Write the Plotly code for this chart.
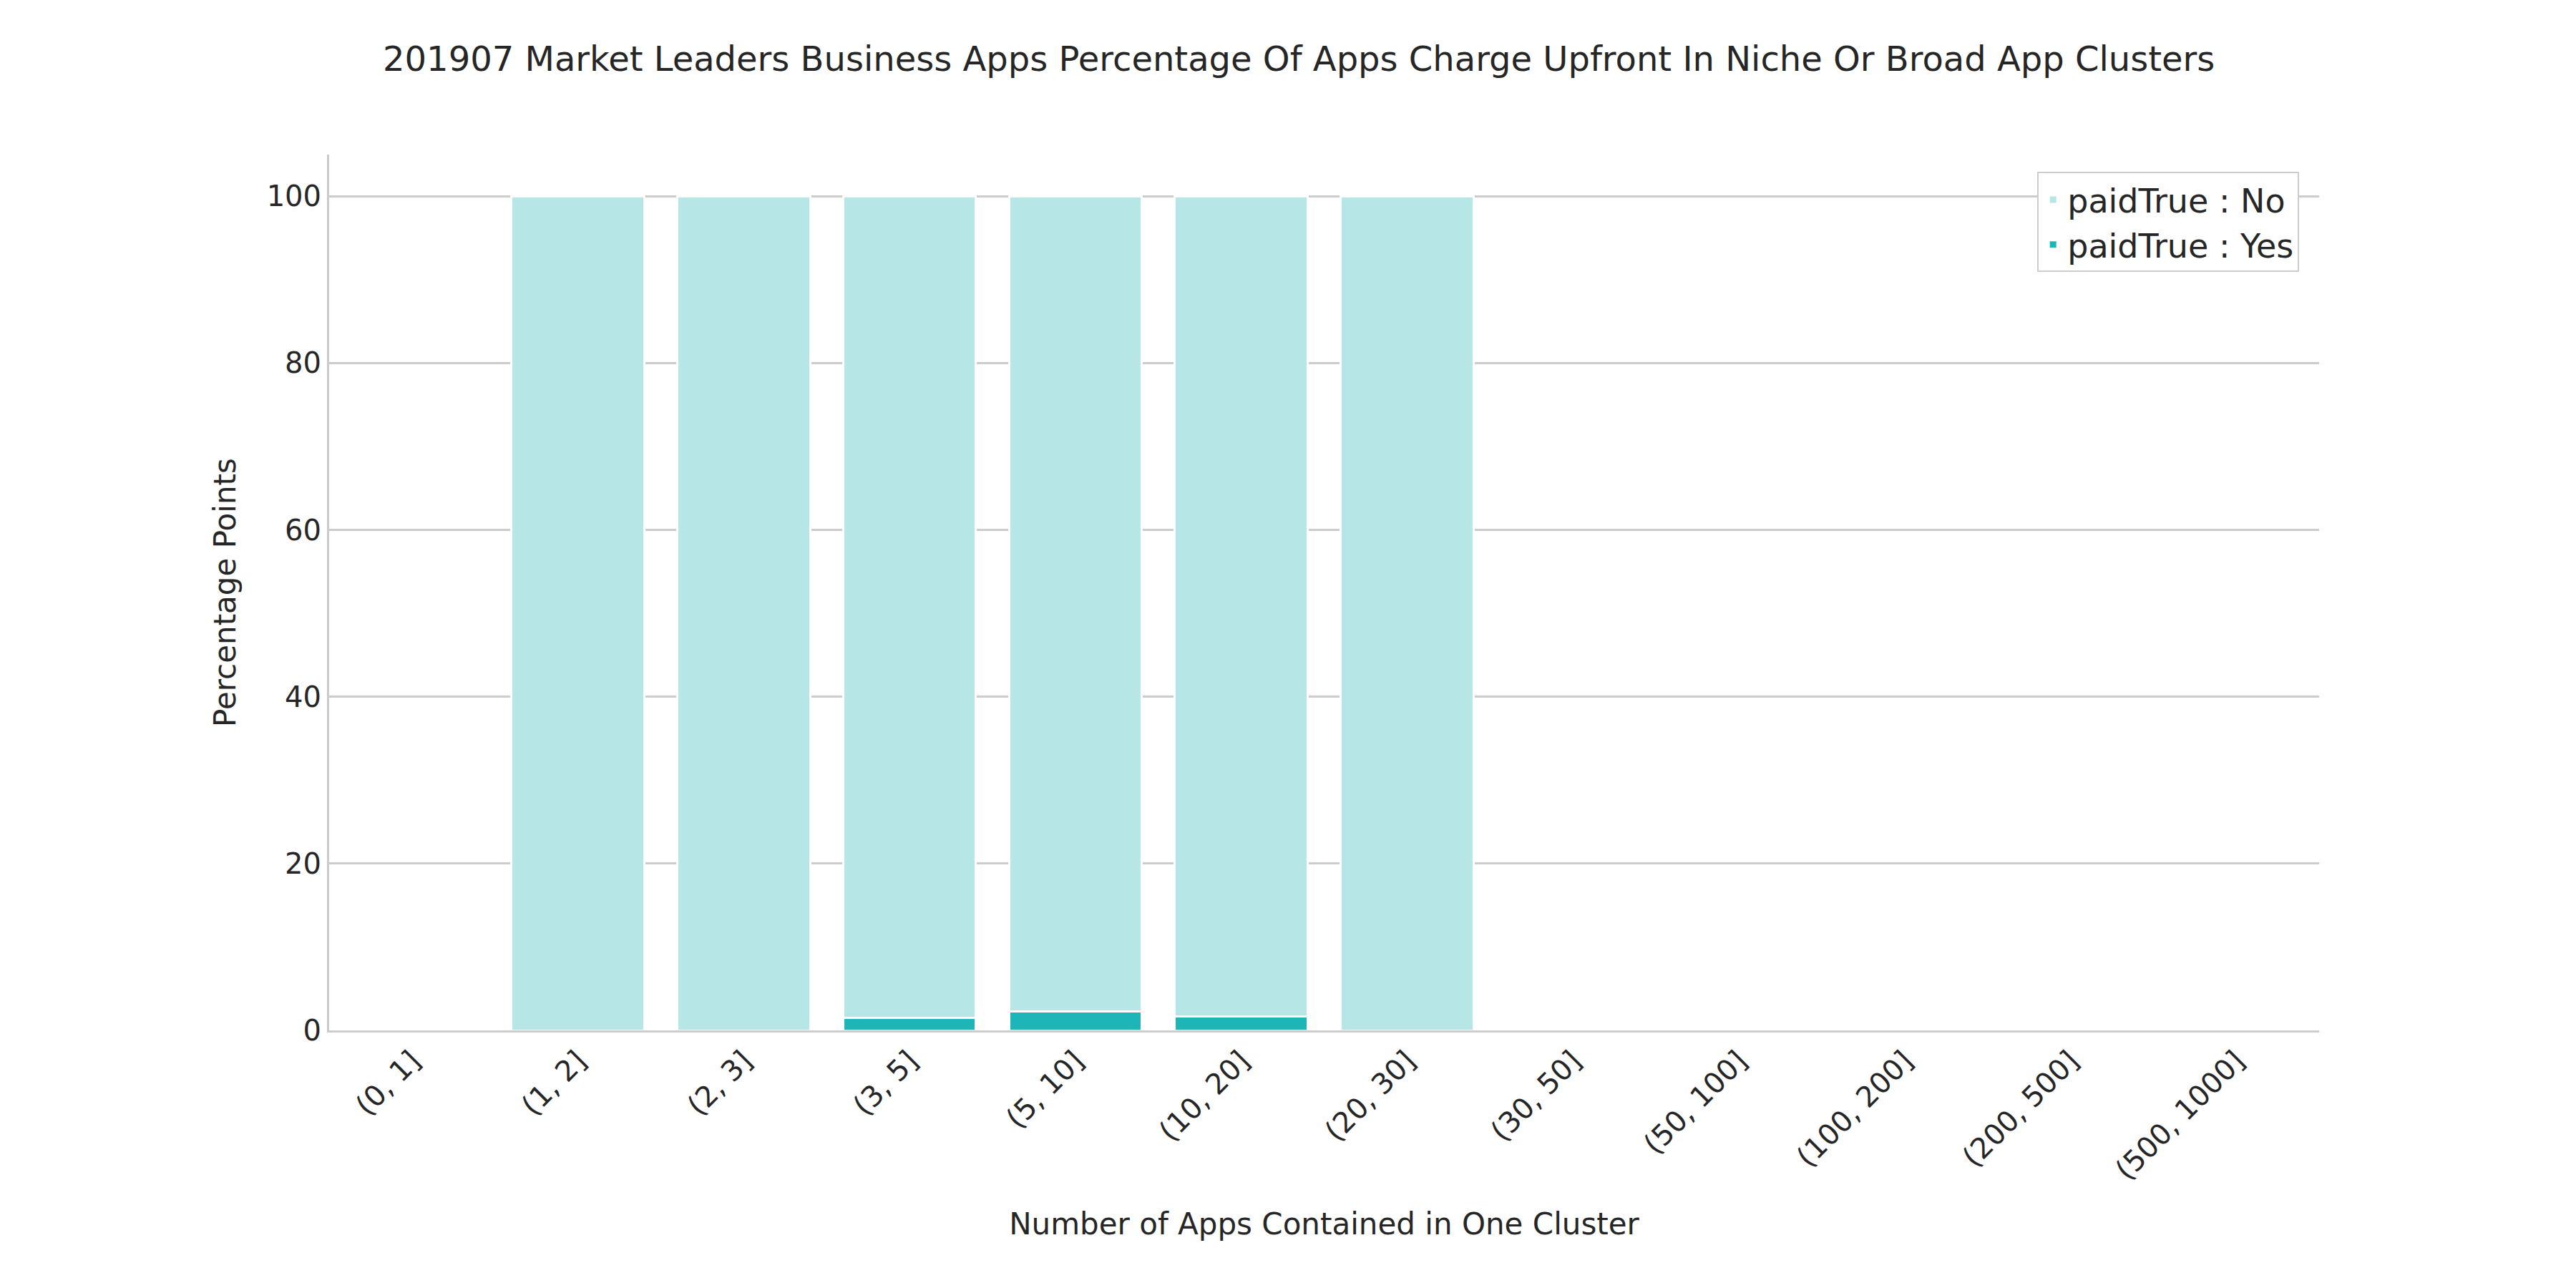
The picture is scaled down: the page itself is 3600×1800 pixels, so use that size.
import plotly.graph_objects as go

categories = ["(0, 1]", "(1, 2]", "(2, 3]", "(3, 5]", "(5, 10]", "(10, 20]", "(20, 30]",
              "(30, 50]", "(50, 100]", "(100, 200]", "(200, 500]", "(500, 1000]"]
paid_yes = [0, 0, 0, 1.5, 2.3, 1.7, 0, 0, 0, 0, 0, 0]
paid_no = [0, 100, 100, 98.5, 97.7, 98.3, 100, 0, 0, 0, 0, 0]

font = dict(family="DejaVu Sans", size=40, color="#262626")
fig = go.Figure()
fig.add_bar(x=categories, y=paid_yes, name="paidTrue : Yes", marker_color="#1cb5b8",
            marker_line=dict(color="white", width=3), width=0.8)
fig.add_bar(x=categories, y=paid_no, name="paidTrue : No", marker_color="#b7e6e6",
            marker_line=dict(color="white", width=3), width=0.8)
fig.update_layout(
    barmode="stack", width=3600, height=1800, plot_bgcolor="white", paper_bgcolor="white",
    font=font,
    title=dict(text="201907 Market Leaders Business Apps Percentage Of Apps Charge Upfront In Niche Or Broad App Clusters",
               x=0.502, xanchor="center", y=0.968, font=dict(size=48)),
    margin=dict(l=452, r=367, t=208, b=368),
    legend=dict(x=0.99, y=0.98, xanchor="right", yanchor="top", traceorder="reversed",
                bordercolor="#cccccc", borderwidth=2, bgcolor="white", font=dict(size=46)),
    bargap=0.2,
)
fig.update_xaxes(title=dict(text="Number of Apps Contained in One Cluster", standoff=40, font=dict(size=42)),
                 tickangle=-45, showline=True, linecolor="#cccccc", linewidth=3,
                 ticks="", showgrid=False, range=[-0.5, 11.5])
fig.update_yaxes(title=dict(text="Percentage Points", standoff=30, font=dict(size=42)), range=[0, 105],
                 tickvals=[0, 20, 40, 60, 80, 100], showline=True, linecolor="#cccccc",
                 linewidth=3, gridcolor="#cccccc", gridwidth=3, zeroline=False, ticks="")
fig.write_html("out.html")
